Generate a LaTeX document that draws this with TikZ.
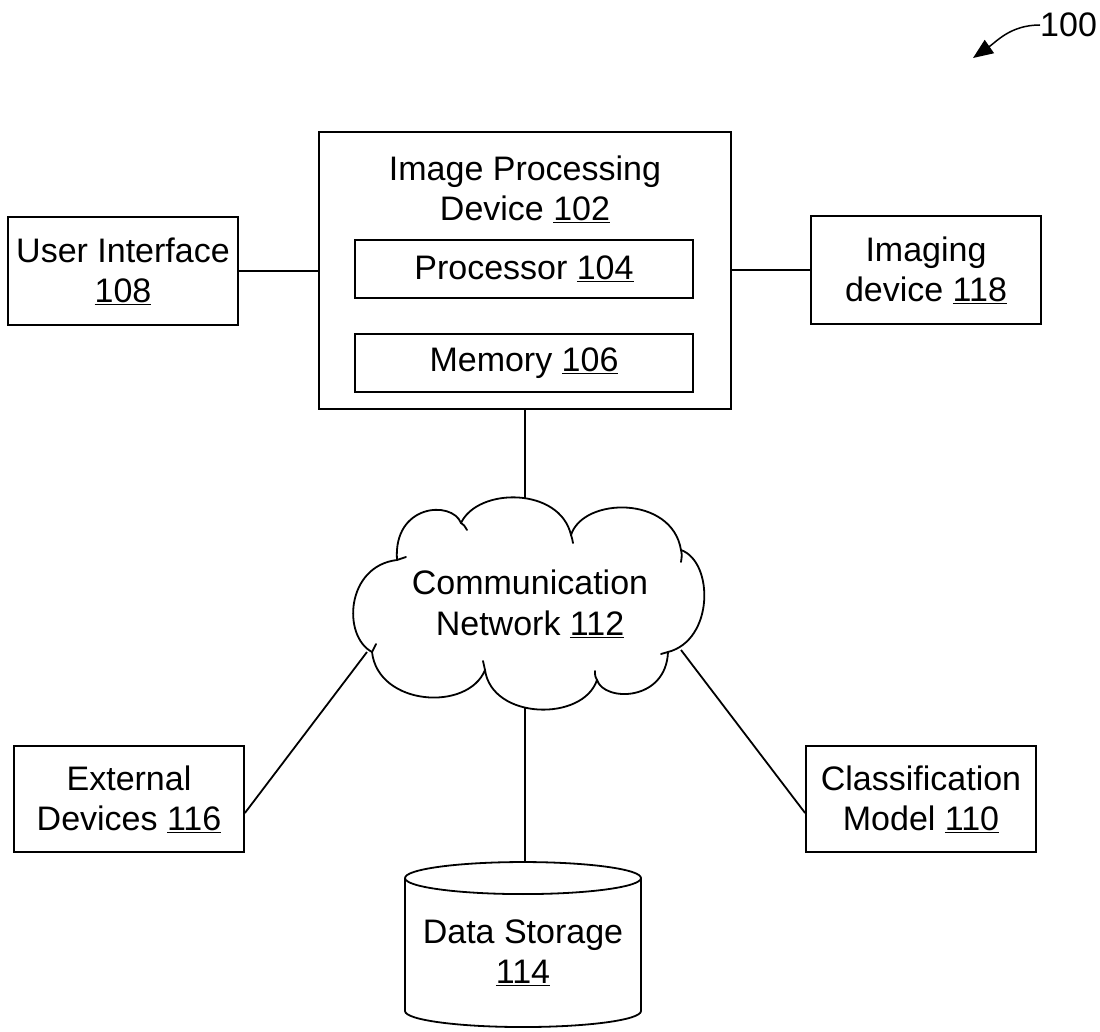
\documentclass[tikz,border=0pt]{standalone}
\usepackage{fontspec}
\setmainfont{Liberation Sans}
\usetikzlibrary{shapes.geometric,arrows.meta}
\tikzset{
  box/.style={draw,line width=1.8pt,inner sep=0pt,align=center,minimum width=230pt,minimum height=108pt},
  inbox/.style={draw,line width=1.8pt,inner sep=0pt,align=center,minimum width=338pt,minimum height=58pt},
  conn/.style={line width=1.8pt},
  puff/.style={line width=1.8pt,line cap=round},
  lbl/.style={inner sep=0pt,align=center},
}
\begin{document}
\begin{tikzpicture}[x=1pt,y=-1pt,font=\fontsize{34}{40}\selectfont]
\useasboundingbox (0,0) rectangle (1100,1032);
\node[box] (ui) at (123,271) {User Interface\\\underline{108}};
\node[box] (img) at (926,270) {Imaging\\device \underline{118}};
\node[draw,line width=1.8pt,minimum width=412pt,minimum height=277pt,inner sep=0pt] (ipd) at (525,270.5) {};
\node[lbl] (ipdt) at (525,189) {Image Processing\\Device \underline{102}};
\node[inbox] (proc) at (524,269) {Processor \underline{104}};
\node[inbox] (mem) at (524,363) {Memory \underline{106}};
% cloud
\draw[line width=1.8pt,line join=round]
  (461,523) .. controls (478,487) and (560,487) .. (571,535)
  .. controls (583,497) and (672,495) .. (681,550)
  .. controls (714,562) and (714,640) .. (668,652)
  .. controls (666,702) and (604,702) .. (597,680)
  .. controls (583,722) and (492,720) .. (485,670)
  .. controls (468,712) and (378,706) .. (372,652)
  .. controls (342,636) and (346,566) .. (397,560)
  .. controls (393,504) and (452,500) .. (461,523) -- cycle;
% puff tails
\draw[puff] (461,523) .. controls (464,525) .. (467,530);
\draw[puff] (571,535) .. controls (572,538) .. (573,543);
\draw[puff] (681,550) .. controls (682,555) .. (681,562);
\draw[puff] (668,652) .. controls (665,653) .. (661,654);
\draw[puff] (597,680) .. controls (595,676) .. (595,671);
\draw[puff] (485,670) .. controls (484,666) .. (483,661);
\draw[puff] (372,652) .. controls (374,648) .. (376,644);
\draw[puff] (397,560) .. controls (401,558) .. (406,557);
\coordinate (ctop) at (525,499);
\coordinate (cbot) at (525,707);
\coordinate (cleft) at (367,652);
\coordinate (cright) at (681,650);
\node[lbl,font=\fontsize{34}{41}\selectfont] (net) at (530,604) {Communication\\Network \underline{112}};
\node[box,minimum height=106pt] (ext) at (129,799) {External\\Devices \underline{116}};
\node[box,minimum height=106pt] (cls) at (921,799) {Classification\\Model \underline{110}};
\node[draw,line width=1.8pt,cylinder,shape border rotate=90,aspect=0.16,minimum width=236pt,minimum height=165pt,inner sep=0pt,align=center] (ds) at (523,953) {Data Storage\\\underline{114}};
\draw[conn] (ui.east) -- (ipd.west |- ui.east);
\draw[conn] (ipd.east |- img.west) -- (img.west);
\draw[conn] (ipd.south) -- (ctop);
\draw[conn] (cbot) -- (cbot |- ds.top);
\draw[conn] (ext.east |- 0,813) -- (cleft);
\draw[conn] (cls.west |- 0,813) -- (cright);
\node[lbl,anchor=west] (ref) at (1040,25) {100};
\coordinate (tip) at (973,58);
\draw[line width=1.5pt,-{Triangle[length=20pt,width=16pt]}] (ref.west) to[out=180,in=35] (tip);
\end{tikzpicture}
\end{document}
